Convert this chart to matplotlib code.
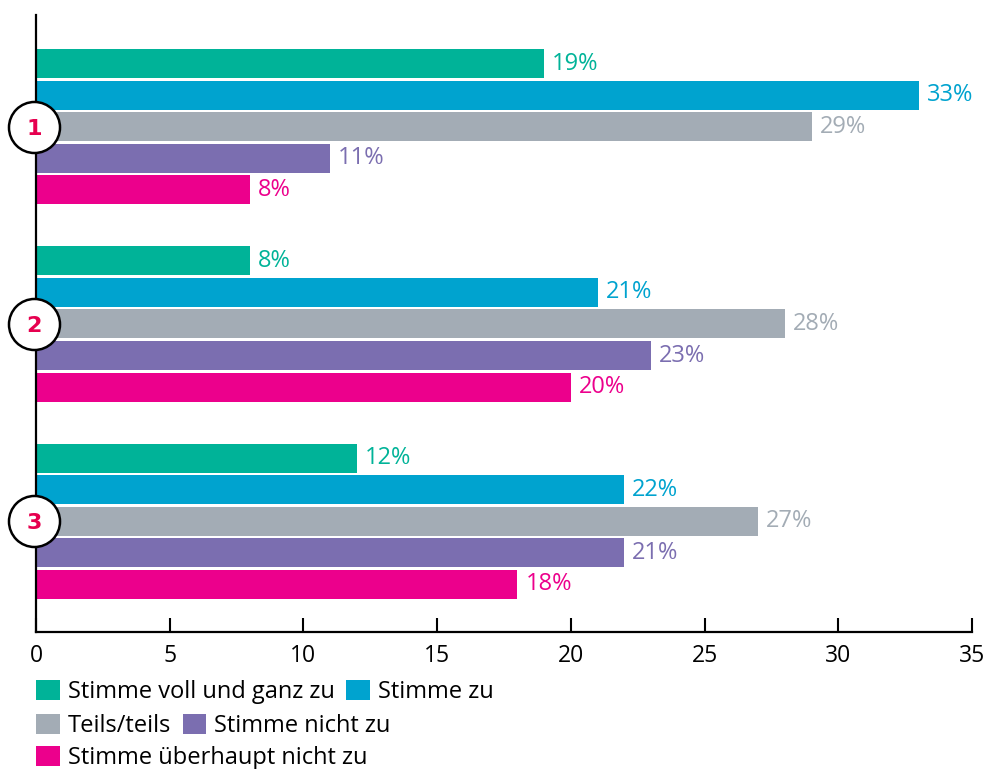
import matplotlib.pyplot as plt
import numpy as np

plt.rcParams['font.family'] = ['Open Sans', 'DejaVu Sans']

groups = ['1', '2', '3']
series = ['Stimme voll und ganz zu', 'Stimme zu', 'Teils/teils',
          'Stimme nicht zu', 'Stimme überhaupt nicht zu']
colors = ['#00b398', '#00a3cf', '#a3acb5', '#7b6eb0', '#ec008c']

# bar lengths as drawn in the original
voll_und_ganz = [19, 8, 12]
stimme_zu = [33, 21, 22]
teils = [29, 28, 27]
nicht_zu = [11, 23, 22]
ueberhaupt_nicht = [8, 20, 18]
values = [voll_und_ganz, stimme_zu, teils, nicht_zu, ueberhaupt_nicht]

# printed labels (one differs from the bar length in the original)
labels = [['19%', '8%', '12%'],
          ['33%', '21%', '22%'],
          ['29%', '28%', '27%'],
          ['11%', '23%', '21%'],
          ['8%', '20%', '18%']]

fig = plt.figure(figsize=(9.87, 7.69), dpi=100)
ax = fig.add_axes([36 / 987, 1 - 632 / 769, (972 - 36) / 987, (632 - 15) / 769])

step = 0.16
height = 0.147
centers = np.arange(len(groups))
bars = []
for i, (name, vals, col) in enumerate(zip(series, values, colors)):
    y = centers + (i - 2) * step
    b = ax.barh(y, vals, height=height, color=col, label=name, zorder=2)
    bars.append(b)
    for yy, v, lab in zip(y, vals, labels[i]):
        ax.text(v + 0.3, yy, lab, color=col, fontsize=17,
                va='center', ha='left')

# numbered circles at the left spine
ax.scatter(np.full(len(groups), -0.08), centers, s=1350, facecolor='white',
           edgecolor='black', linewidth=1.8, zorder=5, clip_on=False)
for c, g in zip(centers, groups):
    ax.text(-0.08, c + 0.01, g, color='#e6004f', fontsize=16, fontweight='bold',
            family=['DejaVu Sans'],
            ha='center', va='center', zorder=6, clip_on=False)

ax.set_xlim(0, 35)
ax.set_ylim(2.562, -0.567)
ax.set_xticks(range(0, 36, 5))
ax.set_yticks([])
ax.tick_params(axis='x', direction='in', length=10, width=1.5, pad=9,
               labelsize=16.5, colors='black')
for s in ['top', 'right']:
    ax.spines[s].set_visible(False)
for s in ['left', 'bottom']:
    ax.spines[s].set_linewidth(1.6)

# legend rows, flowing like the original
rows = [[0, 1], [2, 3], [4]]
row_y = [692, 726, 758]
for r, yy in zip(rows, row_y):
    fig.legend([bars[i] for i in r], [series[i] for i in r],
               loc='center left', bbox_to_anchor=(36 / 987, 1 - yy / 769),
               frameon=False, ncol=len(r), fontsize=17, handlelength=1.0,
               handleheight=0.9, handletextpad=0.34, columnspacing=0.5,
               borderpad=0, borderaxespad=0)

plt.savefig('out.png', dpi=100)
